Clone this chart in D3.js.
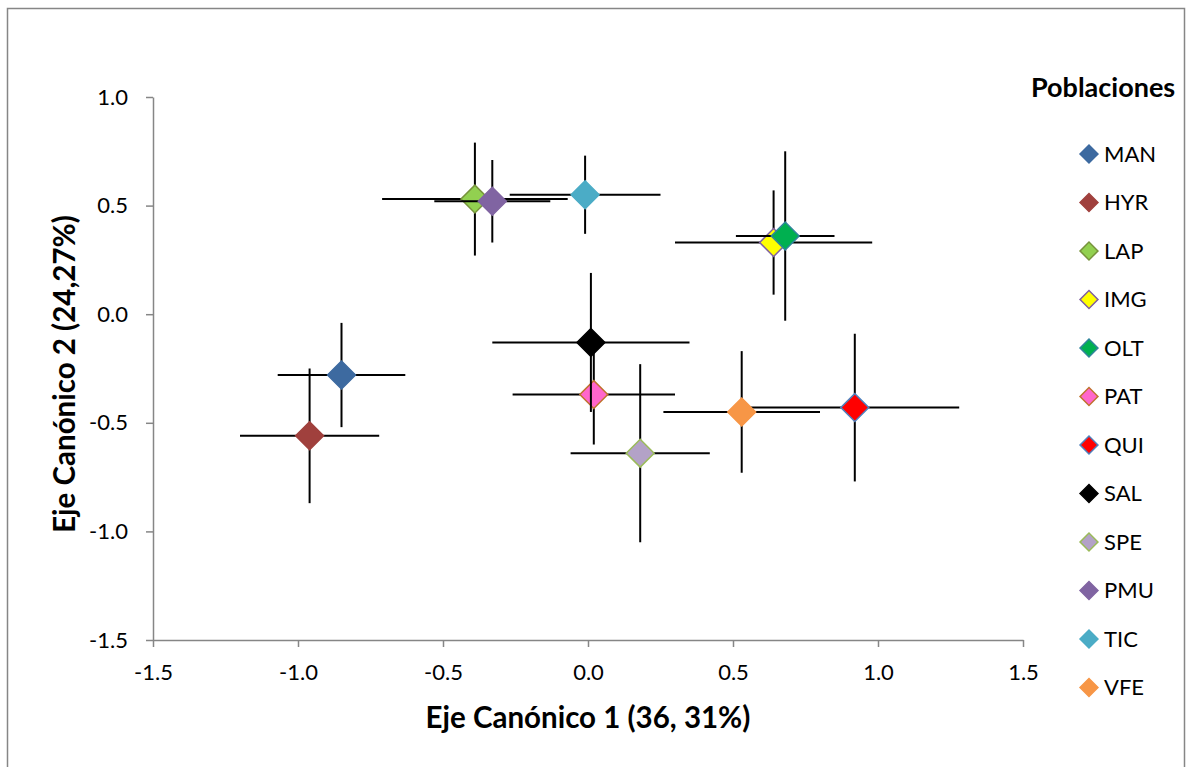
<!DOCTYPE html>
<html>
<head>
<meta charset="utf-8">
<script src="https://cdn.jsdelivr.net/npm/d3@7"></script>
<style>
  body { margin: 0; background: #fff; }
  svg { display: block; font-family: Lato, "Open Sans", sans-serif; }
</style>
</head>
<body>
<svg id="chart" width="1186" height="767"></svg>
<script>
// Análisis canónico - poblaciones (medias con barras de error)
const poblaciones = ['MAN', 'HYR', 'LAP', 'IMG', 'OLT', 'PAT', 'QUI', 'SAL', 'SPE', 'PMU', 'TIC', 'VFE'];
const eje1 = [-0.85, -0.96, -0.39, 0.64, 0.68, 0.02, 0.92, 0.01, 0.18, -0.33, -0.01, 0.53];
const eje2 = [-0.28, -0.56, 0.53, 0.33, 0.36, -0.37, -0.43, -0.13, -0.64, 0.52, 0.55, -0.45];
const errEje1 = [0.22, 0.24, 0.32, 0.34, 0.17, 0.28, 0.36, 0.34, 0.24, 0.20, 0.26, 0.27];
const errEje2 = [0.24, 0.31, 0.26, 0.24, 0.39, 0.23, 0.34, 0.32, 0.41, 0.19, 0.18, 0.28];
const rellenos = ['#3D6AA0', '#A0403D', '#92D050', '#FFFF00', '#00B050', '#FF66CC', '#FF0000', '#000000', '#B3A2C7', '#8064A2', '#4BACC6', '#F79646'];
const bordes = ['#3D6AA0', '#A0403D', '#77933C', '#7F5FA0', '#31859C', '#C0722E', '#4F81BD', '#000000', '#9BBB59', '#8064A2', '#4BACC6', '#F79646'];
const ticksX = [-1.5, -1.0, -0.5, 0.0, 0.5, 1.0, 1.5];
const ticksY = [-1.5, -1.0, -0.5, 0.0, 0.5, 1.0];

const svg = d3.select('#chart');

// chart border
svg.append('rect')
    .attr('x', 7.5).attr('y', 8.5)
    .attr('width', 1177).attr('height', 780)
    .attr('fill', 'none')
    .attr('stroke', '#868686')
    .attr('stroke-width', 1.5);

const x = d3.scaleLinear().domain([-1.5, 1.5]).range([153, 1023]);
const y = d3.scaleLinear().domain([-1.5, 1.0]).range([640, 97]);

// axes
const xAxis = svg.append('g')
    .attr('transform', `translate(0,${y(-1.5)})`)
    .call(d3.axisBottom(x).tickValues(ticksX).tickFormat(d => d.toFixed(1))
        .tickSize(7).tickSizeOuter(0).tickPadding(17));

const yAxis = svg.append('g')
    .attr('transform', `translate(${x(-1.5)},0)`)
    .call(d3.axisLeft(y).tickValues(ticksY).tickFormat(d => d.toFixed(1))
        .tickSize(7).tickSizeOuter(0).tickPadding(18));

[xAxis, yAxis].forEach(a => {
    a.select('.domain').attr('stroke', '#868686').attr('stroke-width', 1.5);
    a.selectAll('.tick line').attr('stroke', '#868686').attr('stroke-width', 1.5);
    a.selectAll('.tick text')
        .attr('fill', '#000')
        .style('font-size', '22px')
        .style('font-family', 'Lato, sans-serif');
});

// axis titles
svg.append('text')
    .attr('x', (x(-1.5) + x(1.5)) / 2)
    .attr('y', 728)
    .attr('text-anchor', 'middle')
    .style('font-size', '29.5px')
    .style('font-weight', 'bold')
    .text('Eje Canónico 1 (36, 31%)');

svg.append('text')
    .attr('transform', 'translate(75,374) rotate(-90)')
    .attr('text-anchor', 'middle')
    .style('font-size', '29.5px')
    .style('font-weight', 'bold')
    .text('Eje Canónico 2 (24,27%)');

const datos = poblaciones.map((p, i) => ({
    nombre: p, cx: eje1[i], cy: eje2[i], ex: errEje1[i], ey: errEje2[i],
    relleno: rellenos[i], borde: bordes[i]
}));

const diamante = d3.symbol().type(d3.symbolSquare).size(390);

// each series: error bars then marker
const serie = svg.selectAll('.serie')
    .data(datos)
    .enter()
    .append('g')
    .attr('class', 'serie');

serie.append('line')
    .attr('x1', d => x(d.cx - d.ex)).attr('x2', d => x(d.cx + d.ex))
    .attr('y1', d => y(d.cy)).attr('y2', d => y(d.cy))
    .attr('stroke', '#000').attr('stroke-width', 2);

serie.append('line')
    .attr('x1', d => x(d.cx)).attr('x2', d => x(d.cx))
    .attr('y1', d => y(d.cy - d.ey)).attr('y2', d => y(d.cy + d.ey))
    .attr('stroke', '#000').attr('stroke-width', 2);

serie.append('path')
    .attr('d', diamante)
    .attr('transform', d => `translate(${x(d.cx)},${y(d.cy)}) rotate(45)`)
    .attr('fill', d => d.relleno)
    .attr('stroke', d => d.borde)
    .attr('stroke-width', 1.5);

// legend
svg.append('text')
    .attr('x', 1031)
    .attr('y', 97)
    .style('font-size', '27px')
    .style('font-weight', 'bold')
    .text('Poblaciones');

const leyenda = svg.selectAll('.leyenda')
    .data(datos)
    .enter()
    .append('g')
    .attr('class', 'leyenda')
    .attr('transform', (d, i) => `translate(1089,${154 + i * 48.5})`);

leyenda.append('path')
    .attr('d', d3.symbol().type(d3.symbolSquare).size(160))
    .attr('transform', 'rotate(45)')
    .attr('fill', d => d.relleno)
    .attr('stroke', d => d.borde)
    .attr('stroke-width', 1.5);

leyenda.append('text')
    .attr('x', 15)
    .attr('dy', '0.36em')
    .style('font-size', '22px')
    .text(d => d.nombre);
</script>
</body>
</html>
